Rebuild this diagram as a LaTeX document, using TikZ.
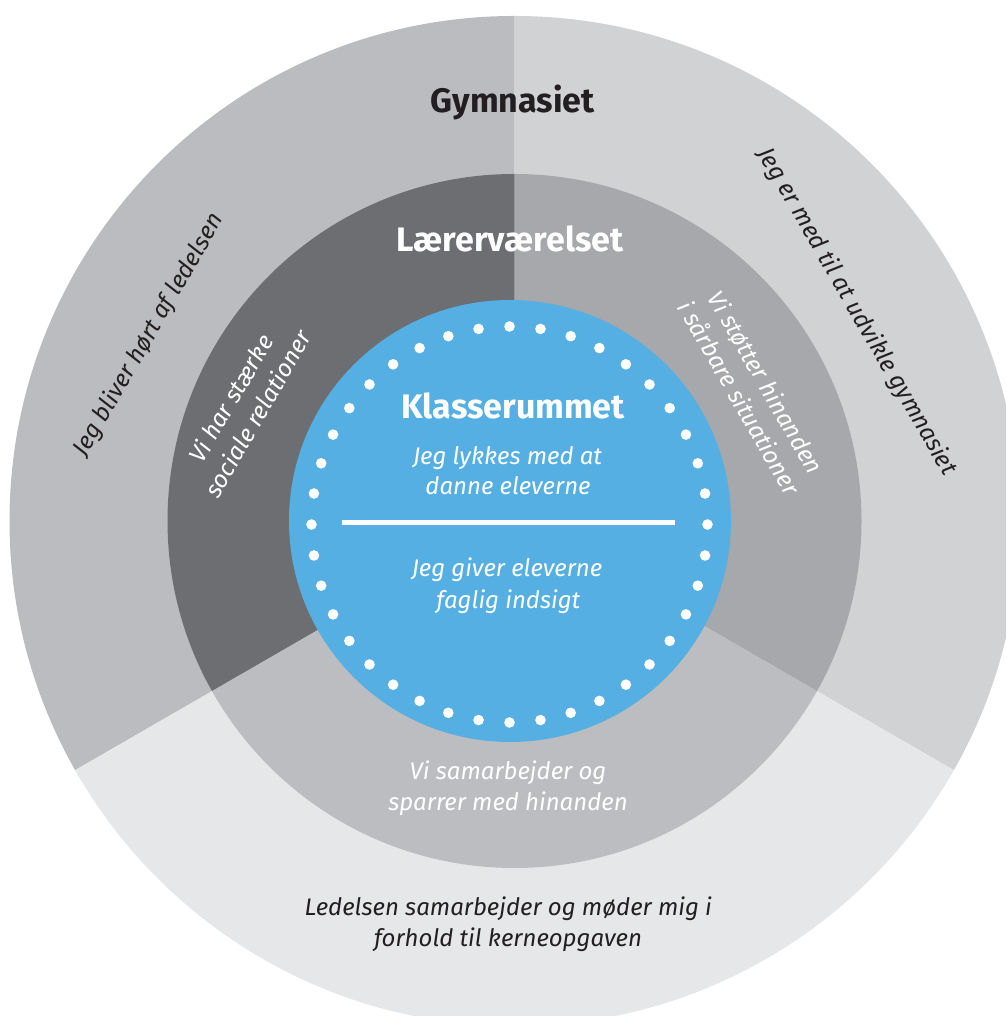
\documentclass[tikz,border=0pt]{standalone}
\usepackage{fontspec}
\setmainfont{Fira Sans}
\definecolor{outerL}{HTML}{BBBCBF}
\definecolor{outerR}{HTML}{D1D2D4}
\definecolor{outerB}{HTML}{E6E7E8}
\definecolor{midL}{HTML}{6D6E72}
\definecolor{midR}{HTML}{A7A8AB}
\definecolor{midB}{HTML}{BCBDC0}
\definecolor{room}{HTML}{55AFE2}
\definecolor{ink}{HTML}{231F20}
\tikzset{
  title/.style={font=\bfseries\fontsize{34}{40}\selectfont, inner sep=0pt},
  phrase/.style={font=\itshape\fontsize{24}{31}\selectfont, inner sep=0pt, align=center},
}
\begin{document}
\begin{tikzpicture}[x=1pt,y=1pt]
\useasboundingbox (0,0) rectangle (1006,1016);
\clip (0,0) rectangle (1006,1016);
\fill[white] (0,0) rectangle (1006,1016);

% centres: sector split point, ring centre, classroom disc, dot ring
\coordinate (S) at (514.5,499.5);
\coordinate (C) at (514.5,495);
\coordinate (B) at (510,495);
\coordinate (D) at (509.5,491.5);

% outer ring: Gymnasiet
\begin{scope}
  \clip (C) circle[radius=505];
  \fill[outerL] (S) -- ++(90:1200) arc[start angle=90,end angle=210,radius=1200] -- cycle;
  \fill[outerR] (S) -- ++(-30:1200) arc[start angle=-30,end angle=90,radius=1200] -- cycle;
  \fill[outerB] (S) -- ++(210:1200) arc[start angle=210,end angle=330,radius=1200] -- cycle;
\end{scope}

% middle ring: Lærerværelset
\begin{scope}
  \clip (C) circle[radius=347];
  \fill[midL] (S) -- ++(90:1200) arc[start angle=90,end angle=210,radius=1200] -- cycle;
  \fill[midR] (S) -- ++(-30:1200) arc[start angle=-30,end angle=90,radius=1200] -- cycle;
  \fill[midB] (S) -- ++(210:1200) arc[start angle=210,end angle=330,radius=1200] -- cycle;
\end{scope}

% inner disc: Klasserummet, with its ring of dots
\fill[room] (B) circle[radius=221];
\foreach \a in {0,9,...,351}
  \fill[white, shift={(D)}] (\a:198) circle[radius=5.3];

% titles
\node[title, text=ink, anchor=base] (gym) at (512.5,903.3) {Gymnasiet};
\node[title, text=white, anchor=base] (laer) at (510,764.3) {Lærerværelset};
\node[title, text=white, anchor=base] (klas) at (513,597.7) {Klasserummet};

% classroom statements and divider
\node[phrase, text=white, anchor=base] (k1a) at (507.5,551.7) {Jeg lykkes med at};
\node[phrase, text=white, anchor=base] (k1b) at (508,521) {danne eleverne};
\coordinate (divL) at (341.7,493.3);
\coordinate (divR) at (675,493.3);
\draw[white, line width=5pt] (divL) -- (divR);
\node[phrase, text=white, anchor=base] (k2a) at (507,439.3) {Jeg giver eleverne};
\node[phrase, text=white, anchor=base] (k2b) at (508.3,407.7) {faglig indsigt};

% staff room statements
\node[phrase, text=white, anchor=base] (l3a) at (508,236) {Vi samarbejder og};
\node[phrase, text=white, anchor=base] (l3b) at (508,205) {sparrer med hinanden};
\node[phrase, text=white, rotate=60] (l1) at (244,610) {Vi har stærke\\sociale relationer};
\node[phrase, text=white, rotate=-60] (l2) at (753,626) {Vi støtter hinanden\\i sårbare situationer};

% school statements
\node[phrase, text=ink, anchor=base] (g3a) at (508.3,100.3) {Ledelsen samarbejder og møder mig i};
\node[phrase, text=ink, anchor=base] (g3b) at (508,69.3) {forhold til kerneopgaven};
\node[phrase, text=ink, rotate=60] (g1) at (149,681) {Jeg bliver hørt af ledelsen};
\node[phrase, text=ink, rotate=-60] (g2) at (856.7,704.3) {Jeg er med til at udvikle gymnasiet};
\end{tikzpicture}
\end{document}
